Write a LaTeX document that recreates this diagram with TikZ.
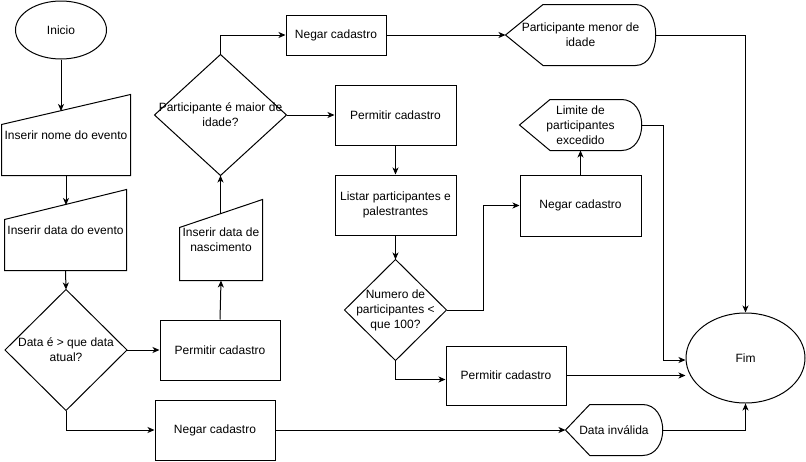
\documentclass[tikz,border=0pt]{standalone}
\usepackage{fontspec}
\setmainfont{Liberation Sans}
\usetikzlibrary{arrows.meta}
\usetikzlibrary{calc}
\usetikzlibrary{shapes.geometric}

% formas desenhadas a partir dos nos
\newcommand\losango[1]{\draw (#1.north) -- (#1.east) -- (#1.south) -- (#1.west) -- cycle;}
\newcommand\entradaforma[2]{\draw (#1.south west) -- (#1.south east) -- (#1.north east) -- ([yshift=-#2pt]#1.north west) -- cycle;}
\newcommand\exibirforma[1]{\draw (#1.west) -- ($(#1.north west)!0.25!(#1.north east)$) -- ([xshift=-20pt]#1.north east)
  .. controls ([xshift=7pt]#1.north east) and ([xshift=7pt]#1.south east) .. ([xshift=-20pt]#1.south east)
  -- ($(#1.south west)!0.25!(#1.south east)$) -- cycle;}

\begin{document}
\begin{tikzpicture}[x=1pt,y=-1pt,line width=1pt,
  texto/.style={font=\fontsize{12}{15}\selectfont,align=center,inner sep=0pt},
  terminal/.style={texto,draw,ellipse,minimum width=91pt,minimum height=58pt},
  processo/.style={texto,draw,rectangle,minimum width=120pt,minimum height=60pt},
  entrada/.style={texto,rectangle,minimum height=80pt},
  decisao/.style={texto,rectangle},
  exibir/.style={texto,rectangle},
  seta/.style={-{Stealth[length=7pt,width=6pt,inset=2pt]}}]

\useasboundingbox (0,0) rectangle (806,461);

% coluna da esquerda
\node[terminal] (inicio) at (61,30) {Inicio};
\node[entrada,minimum width=128pt] (nome) at (66,135) {Inserir nome do evento};
\entradaforma{nome}{30}
\node[entrada,minimum width=121pt] (dataev) at (65.5,230) {Inserir data do evento};
\entradaforma{dataev}{30}
\node[decisao,minimum width=121pt,minimum height=120pt] (dec1) at (66,350) {Data é > que data\\atual?};
\losango{dec1}
\coordinate (nome-top) at (61,111);
\coordinate (dataev-top) at (66,205);

% segunda coluna
\node[processo] (perm1) at (220,350) {Permitir cadastro};
\node[processo] (neg2) at (215,430) {Negar cadastro};
\node[entrada,minimum width=82pt] (nasc) at (221,240) {Inserir data de\\nascimento};
\entradaforma{nasc}{28}
\coordinate (nasc-top) at (220.5,214);
\node[decisao,minimum width=131pt,minimum height=120pt] (dec2) at (220.5,115) {Participante é maior de\\idade?};
\losango{dec2}

% terceira coluna
\node[processo,minimum width=100pt,minimum height=40pt] (neg1) at (336,35) {Negar cadastro};
\node[processo,minimum width=121pt] (perm2) at (395.5,115) {Permitir cadastro};
\node[processo,minimum width=121pt] (listar) at (395.5,205) {Listar participantes e\\palestrantes};
\node[decisao,minimum width=101pt,minimum height=100pt] (dec3) at (395.5,310) {Numero de\\participantes <\\que 100?};
\losango{dec3}
\node[processo,minimum width=120pt,minimum height=59pt] (perm3) at (506,375.5) {Permitir cadastro};

% mensagens
\node[exibir,minimum width=149pt,minimum height=60pt] (menor) at (580.5,35) {Participante menor de\\idade};
\exibirforma{menor}
\node[processo,minimum width=121pt,minimum height=61pt] (neg3) at (580.5,205.5) {Negar cadastro};
\node[exibir,minimum width=121pt,minimum height=50pt] (limite) at (580.5,125) {Limite de\\participantes\\excedido};
\exibirforma{limite}
\node[exibir,minimum width=96pt,minimum height=50pt] (invalida) at (614,430) {Data inválida};
\exibirforma{invalida}

% fim
\node[terminal,minimum width=119pt,minimum height=90pt] (fim) at (745.5,358) {Fim};

% ligacoes
\draw[seta] (inicio) -- (nome-top);
\draw[seta] (nome.south) -- (dataev-top);
\draw[seta] (dataev.south) -- (dec1.north);
\draw[seta] (dec1.east) -- (perm1.west);
\draw[seta] (dec1.south) |- (neg2.west);
\draw[seta] (perm1.north) -- (nasc.south);
\draw[seta] (nasc-top) -- (dec2.south);
\draw[seta] (dec2.north) |- (neg1.west);
\draw[seta] (dec2.east) -- (perm2.west);
\draw[seta] (neg1.east) -- (menor.west);
\draw[seta] (perm2) -- (listar);
\draw[seta] (listar) -- (dec3.north);
\draw[seta] (dec3.east) -- ++(37,0) |- (neg3.west);
\draw[seta] (dec3.south) |- ([yshift=-4pt]perm3.west);
\draw[seta] (neg3) -- (limite);
\draw[seta] (limite.east) -- ++(22,0) |- ([yshift=-2pt]fim.west);
\draw[seta] (perm3.east) -- (perm3.east -| fim.west);
\draw[seta] (menor.east) -| (fim.north);
\draw[seta] (neg2.east) -- (invalida.west);
\draw[seta] (invalida.east) -| (fim.south);

\end{tikzpicture}
\end{document}
